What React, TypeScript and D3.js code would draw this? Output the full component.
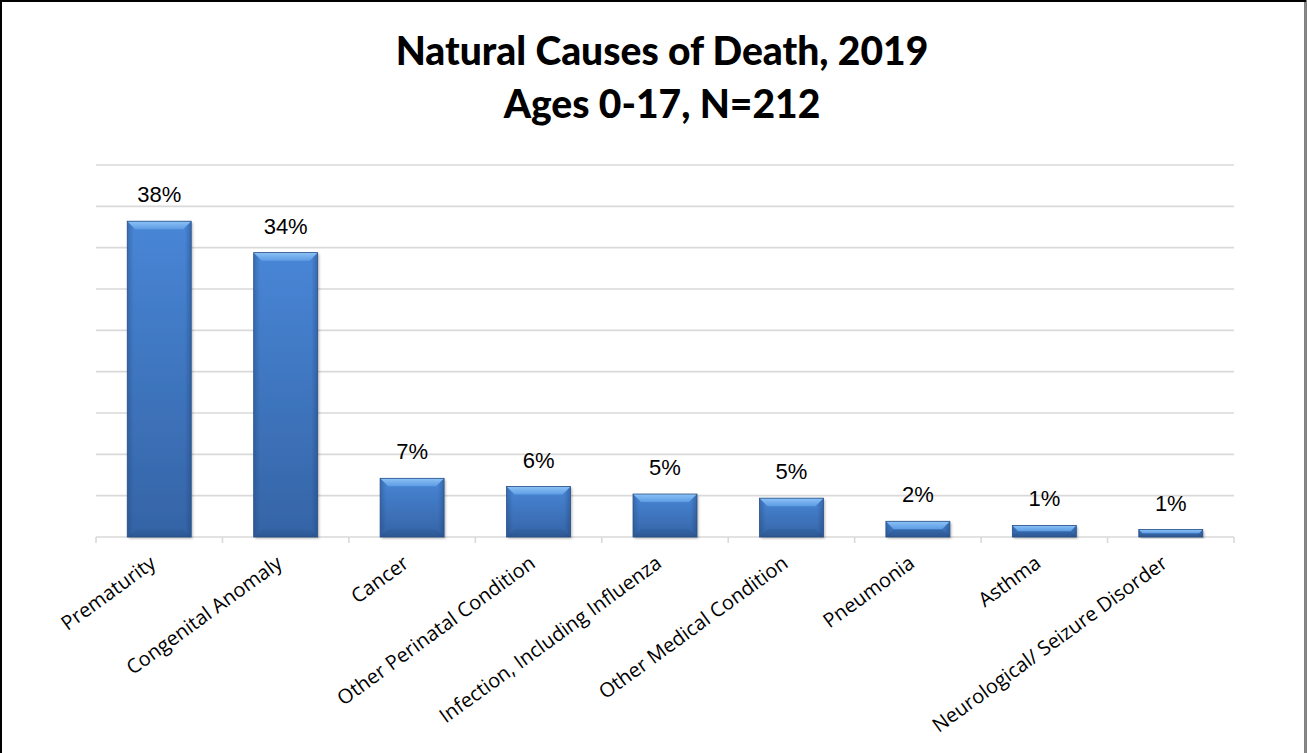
import React from "react";
import * as d3 from "d3";

const categories = [
  "Prematurity",
  "Congenital Anomaly",
  "Cancer",
  "Other Perinatal Condition",
  "Infection, Including Influenza",
  "Other Medical Condition",
  "Pneumonia",
  "Asthma",
  "Neurological/ Seizure Disorder",
];
const values = [38.2, 34.4, 7.1, 6.1, 5.2, 4.7, 1.9, 1.4, 0.9];
const valueLabels = ["38%", "34%", "7%", "6%", "5%", "5%", "2%", "1%", "1%"];
const gridTicks = [5, 10, 15, 20, 25, 30, 35, 40, 45];
const titleLines = ["Natural Causes of Death, 2019", "Ages 0-17, N=212"];

const W = 1307;
const H = 753;
const left = 96;
const right = 1234;
const top = 165;
const bottom = 537;

export default function App() {
  const x = d3.scaleBand<string>().domain(categories).range([left, right]).paddingInner(0.494).paddingOuter(0.247);
  const y = d3.scaleLinear().domain([0, 45]).range([bottom, top]);
  const bw = x.bandwidth();
  const boundaries = d3.range(categories.length + 1).map((i) => left + i * ((right - left) / categories.length));

  return (
    <svg width={W} height={H} style={{ position: "fixed", left: 0, top: 0, background: "#fff" }}>
      <defs>
        <linearGradient id="body" x1="0" y1="0" x2="0" y2="1">
          <stop offset="0" stopColor="#4886d6" />
          <stop offset="1" stopColor="#3564a6" />
        </linearGradient>
        <linearGradient id="edges" x1="0" y1="0" x2="1" y2="0">
          <stop offset="0" stopColor="#1c3f72" stopOpacity="0.35" />
          <stop offset="0.1" stopColor="#1c3f72" stopOpacity="0" />
          <stop offset="0.9" stopColor="#1c3f72" stopOpacity="0" />
          <stop offset="1" stopColor="#1c3f72" stopOpacity="0.4" />
        </linearGradient>
        <linearGradient id="topBevel" x1="0" y1="0" x2="0" y2="1">
          <stop offset="0" stopColor="#8cc2f6" />
          <stop offset="1" stopColor="#5e9de4" />
        </linearGradient>
        <linearGradient id="bottomBevel" x1="0" y1="0" x2="0" y2="1">
          <stop offset="0" stopColor="#30609e" />
          <stop offset="1" stopColor="#284f86" />
        </linearGradient>
        <filter id="shadow" x="-20%" y="-20%" width="140%" height="140%">
          <feDropShadow dx="1.5" dy="1.5" stdDeviation="1.2" floodColor="#000" floodOpacity="0.28" />
        </filter>
      </defs>
      <rect x={1} y={1} width={W - 2.5} height={H + 10} fill="#fff" stroke="#000" strokeWidth={2} />
      <line x1={W - 1.5} x2={W - 1.5} y1={2} y2={H} stroke="#8a8a8a" strokeWidth={1} />

      {titleLines.map((t, i) => (
        <text
          key={t}
          x={662}
          y={i === 0 ? 64.5 : 118}
          textAnchor="middle"
          fontFamily="Lato, 'Open Sans', sans-serif"
          fontWeight={900}
          fontSize={39}
          fill="#000"
        >
          {t}
        </text>
      ))}

      {gridTicks.map((t) => (
        <line key={t} x1={left} x2={right} y1={y(t)} y2={y(t)} stroke="#d9d9d9" strokeWidth={1.6} />
      ))}
      <line x1={left} x2={right} y1={bottom} y2={bottom} stroke="#d9d9d9" strokeWidth={1.6} />
      {boundaries.map((b, i) => (
        <line key={i} x1={b} x2={b} y1={bottom} y2={bottom + 6} stroke="#d9d9d9" strokeWidth={1.6} />
      ))}

      {categories.map((c, i) => {
        const x0 = x(c) as number;
        const y0 = y(values[i]);
        const h = bottom - y0;
        const bv = Math.min(8, h / 2);
        return (
          <g key={c}>
            <g filter="url(#shadow)">
              <rect x={x0} y={y0} width={bw} height={h} fill="url(#body)" />
            </g>
            <rect x={x0} y={y0} width={bw} height={h} fill="url(#edges)" />
            <polygon
              points={`${x0},${y0 + h} ${x0 + bv},${y0 + h - bv} ${x0 + bw - bv},${y0 + h - bv} ${x0 + bw},${y0 + h}`}
              fill="url(#bottomBevel)"
              opacity={0.6}
            />
            <polygon
              points={`${x0},${y0} ${x0 + bw},${y0} ${x0 + bw - bv},${y0 + bv} ${x0 + bv},${y0 + bv}`}
              fill="url(#topBevel)"
            />
            <rect x={x0} y={y0} width={bw} height={h} fill="none" stroke="#2a5288" strokeWidth={0.8} />
            <text
              x={x0 + bw / 2}
              y={y0 - 19}
              textAnchor="middle"
              fontFamily="'Liberation Sans', Arial, sans-serif"
              fontSize={22}
              fill="#000"
            >
              {valueLabels[i]}
            </text>
            <text
              transform={`translate(${x0 + bw / 2 - 2},${bottom + 29}) rotate(-36)`}
              textAnchor="end"
              fontFamily="'Open Sans', 'Noto Sans', sans-serif"
              fontSize={20}
              fill="#000"
            >
              {c}
            </text>
          </g>
        );
      })}
    </svg>
  );
}
